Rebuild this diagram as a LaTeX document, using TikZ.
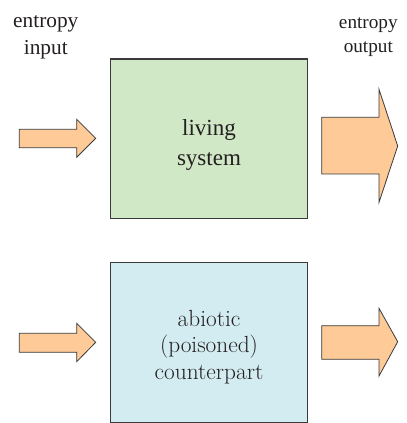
\documentclass[tikz,border=0pt]{standalone}
\usepackage{fontspec}
\newfontfamily\timesfont{Liberation Serif}
\definecolor{arrowfill}{HTML}{FECB98}
\definecolor{livefill}{HTML}{D1E8C7}
\definecolor{abiofill}{HTML}{D3ECF1}
\definecolor{edgegray}{HTML}{3A3A3A}
\definecolor{txtgray}{HTML}{231F20}
\begin{document}
\begin{tikzpicture}[x=0.75pt,y=-0.75pt,
  boxshape/.style={draw=edgegray,line width=0.8pt},
  fatarrow/.style={draw=edgegray,fill=arrowfill,line width=0.6pt,line join=miter},
  lbl/.style={text=txtgray,align=center,font=\timesfont\LARGE,inner sep=0pt}]
\useasboundingbox (0,0) rectangle (406,423);
% boxes
\draw[boxshape,fill=livefill] (110.7,59) rectangle (307.3,218.3);
\draw[boxshape,fill=abiofill] (110.7,262.7) rectangle (307.3,422.3);
\node[lbl] (living) at (209,145) {living\\system};
\node[lbl,font=\rmfamily\fontsize{17.5}{20}\selectfont] (abiotic) at (209,347) {abiotic\\(poisoned)\\counterpart};
% labels
\node[lbl,font=\timesfont\fontsize{16}{20}\selectfont] (inlbl) at (45.8,37) {entropy\\input};
\node[lbl,font=\timesfont\Large] (outlbl) at (368.3,37) {entropy\\output};
% arrows
\draw[fatarrow] (19.3,129.3) -- (76.7,129.3) -- (76.7,119.3) -- (95.7,138.3) -- (76.7,157.3) -- (76.7,147.7) -- (19.3,147.7) -- cycle;
\draw[fatarrow] (321.7,117.3) -- (379,117.3) -- (379,89.3) -- (397.7,146) -- (379,202.3) -- (379,174) -- (321.7,174) -- cycle;
\draw[fatarrow] (19.3,333.3) -- (76.7,333.3) -- (76.7,323.3) -- (95.7,342.3) -- (76.7,361.7) -- (76.7,352.3) -- (19.3,352.3) -- cycle;
\draw[fatarrow] (321.7,325.7) -- (379,325.7) -- (379,308.3) -- (397.7,341.7) -- (379,376) -- (379,359.3) -- (321.7,359.3) -- cycle;
\end{tikzpicture}
\end{document}
